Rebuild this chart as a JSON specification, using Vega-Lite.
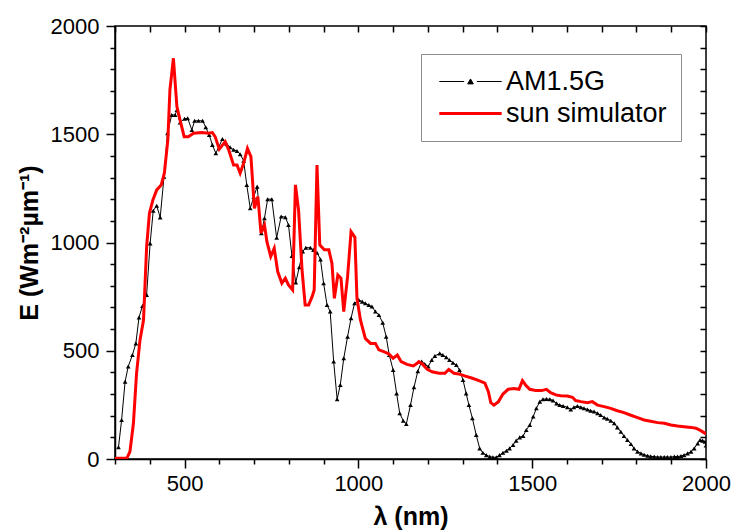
{
  "$schema": "https://vega.github.io/schema/vega-lite/v6.json",
  "autosize": "none",
  "width": 591,
  "height": 433,
  "padding": {"left": 115, "top": 26, "right": 28, "bottom": 73},
  "background": "white",
  "datasets": {
    "am15g": [
      {"wl":310,"E":54},{"wl":319,"E":180},{"wl":329,"E":357},{"wl":338,"E":427},{"wl":350,"E":480},{"wl":360,"E":534},{"wl":369,"E":654},{"wl":379,"E":707},{"wl":391,"E":758},{"wl":401,"E":996},{"wl":410,"E":1147},{"wl":420,"E":1170},{"wl":430,"E":1116},{"wl":441,"E":1304},{"wl":451,"E":1505},{"wl":463,"E":1589},{"wl":473,"E":1589},{"wl":478,"E":1612},{"wl":487,"E":1554},{"wl":500,"E":1572},{"wl":509,"E":1574},{"wl":521,"E":1520},{"wl":529,"E":1562},{"wl":540,"E":1562},{"wl":552,"E":1562},{"wl":561,"E":1532},{"wl":571,"E":1497},{"wl":580,"E":1451},{"wl":590,"E":1412},{"wl":609,"E":1478},{"wl":621,"E":1455},{"wl":631,"E":1440},{"wl":641,"E":1428},{"wl":651,"E":1423},{"wl":660,"E":1408},{"wl":670,"E":1378},{"wl":679,"E":1266},{"wl":689,"E":1158},{"wl":699,"E":1210},{"wl":709,"E":1258},{"wl":721,"E":1043},{"wl":730,"E":1112},{"wl":739,"E":1200},{"wl":751,"E":1200},{"wl":765,"E":1022},{"wl":778,"E":1120},{"wl":790,"E":1117},{"wl":799,"E":1081},{"wl":809,"E":938},{"wl":820,"E":815},{"wl":830,"E":886},{"wl":840,"E":958},{"wl":849,"E":976},{"wl":862,"E":976},{"wl":871,"E":966},{"wl":881,"E":953},{"wl":891,"E":922},{"wl":900,"E":812},{"wl":910,"E":711},{"wl":919,"E":681},{"wl":929,"E":450},{"wl":939,"E":276},{"wl":948,"E":342},{"wl":958,"E":465},{"wl":969,"E":565},{"wl":979,"E":650},{"wl":989,"E":719},{"wl":1001,"E":735},{"wl":1011,"E":727},{"wl":1020,"E":719},{"wl":1030,"E":711},{"wl":1039,"E":704},{"wl":1049,"E":681},{"wl":1059,"E":665},{"wl":1070,"E":630},{"wl":1080,"E":565},{"wl":1089,"E":480},{"wl":1100,"E":411},{"wl":1110,"E":303},{"wl":1119,"E":211},{"wl":1129,"E":177},{"wl":1138,"E":162},{"wl":1150,"E":249},{"wl":1160,"E":331},{"wl":1171,"E":405},{"wl":1182,"E":450},{"wl":1191,"E":439},{"wl":1201,"E":427},{"wl":1211,"E":457},{"wl":1220,"E":476},{"wl":1234,"E":488},{"wl":1243,"E":480},{"wl":1253,"E":470},{"wl":1262,"E":457},{"wl":1272,"E":445},{"wl":1282,"E":434},{"wl":1291,"E":411},{"wl":1301,"E":365},{"wl":1310,"E":303},{"wl":1318,"E":249},{"wl":1328,"E":188},{"wl":1339,"E":111},{"wl":1349,"E":49},{"wl":1358,"E":29},{"wl":1368,"E":18},{"wl":1378,"E":11},{"wl":1387,"E":8},{"wl":1397,"E":8},{"wl":1406,"E":18},{"wl":1416,"E":29},{"wl":1426,"E":38},{"wl":1435,"E":49},{"wl":1445,"E":65},{"wl":1454,"E":85},{"wl":1464,"E":100},{"wl":1474,"E":106},{"wl":1483,"E":134},{"wl":1493,"E":157},{"wl":1503,"E":196},{"wl":1512,"E":234},{"wl":1522,"E":265},{"wl":1531,"E":276},{"wl":1541,"E":277},{"wl":1551,"E":276},{"wl":1560,"E":270},{"wl":1570,"E":257},{"wl":1579,"E":249},{"wl":1589,"E":245},{"wl":1601,"E":239},{"wl":1611,"E":229},{"wl":1620,"E":239},{"wl":1630,"E":245},{"wl":1640,"E":239},{"wl":1649,"E":234},{"wl":1659,"E":229},{"wl":1668,"E":223},{"wl":1678,"E":219},{"wl":1688,"E":211},{"wl":1697,"E":203},{"wl":1707,"E":192},{"wl":1716,"E":186},{"wl":1726,"E":177},{"wl":1736,"E":165},{"wl":1745,"E":146},{"wl":1755,"E":126},{"wl":1764,"E":106},{"wl":1774,"E":88},{"wl":1784,"E":69},{"wl":1793,"E":49},{"wl":1803,"E":34},{"wl":1813,"E":26},{"wl":1822,"E":20},{"wl":1832,"E":15},{"wl":1841,"E":12},{"wl":1851,"E":11},{"wl":1861,"E":9},{"wl":1870,"E":9},{"wl":1880,"E":9},{"wl":1889,"E":9},{"wl":1899,"E":9},{"wl":1909,"E":11},{"wl":1918,"E":11},{"wl":1928,"E":14},{"wl":1937,"E":18},{"wl":1947,"E":26},{"wl":1957,"E":34},{"wl":1966,"E":49},{"wl":1976,"E":72},{"wl":1983,"E":88},{"wl":1990,"E":85},{"wl":1997,"E":80},{"wl":2000,"E":62}
    ],
    "sim": [
      {"wl":300,"E":3},{"wl":334,"E":3},{"wl":343,"E":34},{"wl":353,"E":165},{"wl":362,"E":396},{"wl":372,"E":550},{"wl":382,"E":642},{"wl":391,"E":981},{"wl":399,"E":1135},{"wl":409,"E":1197},{"wl":420,"E":1243},{"wl":433,"E":1266},{"wl":442,"E":1320},{"wl":452,"E":1474},{"wl":458,"E":1705},{"wl":468,"E":1851},{"wl":478,"E":1628},{"wl":487,"E":1566},{"wl":499,"E":1489},{"wl":511,"E":1489},{"wl":526,"E":1505},{"wl":550,"E":1508},{"wl":569,"E":1505},{"wl":580,"E":1508},{"wl":588,"E":1489},{"wl":600,"E":1431},{"wl":617,"E":1466},{"wl":627,"E":1428},{"wl":641,"E":1358},{"wl":651,"E":1358},{"wl":660,"E":1320},{"wl":670,"E":1366},{"wl":681,"E":1435},{"wl":691,"E":1397},{"wl":701,"E":1158},{"wl":711,"E":1212},{"wl":720,"E":1043},{"wl":730,"E":1081},{"wl":737,"E":1004},{"wl":748,"E":935},{"wl":758,"E":973},{"wl":768,"E":866},{"wl":780,"E":812},{"wl":790,"E":835},{"wl":799,"E":804},{"wl":811,"E":781},{"wl":819,"E":1266},{"wl":828,"E":1150},{"wl":838,"E":873},{"wl":847,"E":711},{"wl":857,"E":711},{"wl":867,"E":750},{"wl":873,"E":781},{"wl":881,"E":1358},{"wl":889,"E":989},{"wl":902,"E":966},{"wl":915,"E":966},{"wl":924,"E":904},{"wl":931,"E":742},{"wl":941,"E":850},{"wl":950,"E":835},{"wl":958,"E":681},{"wl":969,"E":842},{"wl":979,"E":1050},{"wl":990,"E":1024},{"wl":996,"E":742},{"wl":1006,"E":642},{"wl":1020,"E":557},{"wl":1035,"E":534},{"wl":1049,"E":534},{"wl":1059,"E":504},{"wl":1073,"E":496},{"wl":1088,"E":485},{"wl":1100,"E":465},{"wl":1112,"E":480},{"wl":1123,"E":450},{"wl":1140,"E":437},{"wl":1158,"E":430},{"wl":1169,"E":442},{"wl":1174,"E":450},{"wl":1184,"E":439},{"wl":1198,"E":414},{"wl":1212,"E":403},{"wl":1232,"E":396},{"wl":1249,"E":396},{"wl":1260,"E":414},{"wl":1275,"E":396},{"wl":1289,"E":393},{"wl":1308,"E":383},{"wl":1328,"E":373},{"wl":1347,"E":362},{"wl":1364,"E":350},{"wl":1374,"E":311},{"wl":1381,"E":260},{"wl":1390,"E":249},{"wl":1403,"E":265},{"wl":1416,"E":300},{"wl":1431,"E":322},{"wl":1448,"E":326},{"wl":1462,"E":322},{"wl":1472,"E":362},{"wl":1481,"E":342},{"wl":1493,"E":322},{"wl":1510,"E":316},{"wl":1527,"E":316},{"wl":1541,"E":322},{"wl":1553,"E":306},{"wl":1568,"E":296},{"wl":1582,"E":292},{"wl":1601,"E":291},{"wl":1616,"E":285},{"wl":1625,"E":270},{"wl":1640,"E":265},{"wl":1659,"E":260},{"wl":1673,"E":265},{"wl":1688,"E":249},{"wl":1707,"E":242},{"wl":1726,"E":234},{"wl":1745,"E":223},{"wl":1764,"E":214},{"wl":1784,"E":202},{"wl":1803,"E":191},{"wl":1822,"E":180},{"wl":1841,"E":174},{"wl":1861,"E":168},{"wl":1880,"E":165},{"wl":1899,"E":157},{"wl":1918,"E":152},{"wl":1937,"E":149},{"wl":1957,"E":146},{"wl":1971,"E":142},{"wl":1985,"E":131},{"wl":2000,"E":116}
    ]
  },
  "layer": [
    {
      "data": {"name": "am15g"},
      "mark": {"type": "line", "strokeWidth": 1, "clip": true},
      "encoding": {
        "x": {"field": "wl", "type": "quantitative", "scale": {"domain": [300, 2000], "nice": false, "zero": false},
          "axis": {"orient": "bottom", "title": "λ (nm)", "format": "d", "tickCount": 100, "values": [300,400,500,600,700,800,900,1000,1100,1200,1300,1400,1500,1600,1700,1800,1900,2000],
            "labelExpr": "datum.value % 500 === 0 ? datum.label : ''", "labelOverlap": false, "labelFlush": false,
            "tickSize": {"condition": {"test": "datum.value % 500 === 0", "value": 9}, "value": 5},
            "grid": true, "gridColor": "#000000", "gridWidth": 1.5, "gridOpacity": 1, "gridDash": [6, 440],
            "labelPadding": 5, "titlePadding": 10}},
        "y": {"field": "E", "type": "quantitative", "scale": {"domain": [0, 2000], "nice": false},
          "axis": {"orient": "left", "title": "E (Wm⁻²µm⁻¹)", "format": "d", "tickCount": 100, "values": [0,100,200,300,400,500,600,700,800,900,1000,1100,1200,1300,1400,1500,1600,1700,1800,1900,2000],
            "labelExpr": "datum.value % 500 === 0 ? datum.label : ''", "labelOverlap": false, "labelFlush": false,
            "tickSize": {"condition": {"test": "datum.value % 500 === 0", "value": 9}, "value": 5},
            "grid": true, "gridColor": "#000000", "gridWidth": 1.5, "gridOpacity": 1, "gridDash": [0, 585, 6],
            "labelPadding": 7, "titlePadding": 8}},
        "color": {"datum": "AM1.5G", "type": "nominal",
          "scale": {"domain": ["AM1.5G", "sun simulator"], "range": ["black", "#ff0000"]},
          "legend": {"title": null, "orient": "none", "legendX": 306, "legendY": 28, "direction": "vertical",
            "strokeColor": "#8c8c8c", "fillColor": "white", "padding": 14, "rowPadding": 4,
            "labelFontSize": 27, "labelFont": "Liberation Sans", "labelColor": "black", "labelLimit": 400,
            "symbolSize": 256, "symbolOffset": 22, "labelOffset": 22,
            "encode": {"symbols": {"update": {
              "shape": {"signal": "datum.value === 'AM1.5G' ? 'M-3.9,0H-0.8M0.8,0H3.9M-0.35,0.3L0,-0.32L0.35,0.3Z' : 'M-3.9,0H3.9'"},
              "fill": {"signal": "datum.value === 'AM1.5G' ? 'black' : 'transparent'"},
              "stroke": {"signal": "datum.value === 'AM1.5G' ? '#555555' : '#ff0000'"},
              "strokeWidth": {"signal": "datum.value === 'AM1.5G' ? 1 : 3"},
              "opacity": {"value": 1}
            }}}}}
      }
    },
    {
      "data": {"name": "am15g"},
      "mark": {"type": "point", "shape": "triangle-up", "filled": true, "size": 22, "opacity": 1, "clip": true},
      "encoding": {
        "x": {"field": "wl", "type": "quantitative"},
        "y": {"field": "E", "type": "quantitative"},
        "color": {"value": "black"}
      }
    },
    {
      "data": {"name": "sim"},
      "mark": {"type": "line", "strokeWidth": 3, "clip": true},
      "encoding": {
        "x": {"field": "wl", "type": "quantitative"},
        "y": {"field": "E", "type": "quantitative"},
        "color": {"datum": "sun simulator", "type": "nominal"}
      }
    }
  ],
  "config": {
    "view": {"stroke": "black", "strokeWidth": 1.5},
    "font": "Liberation Sans",
    "axis": {"domainColor": "black", "domainWidth": 1.5, "tickColor": "black", "tickWidth": 1.5,
      "labelColor": "black", "labelFontSize": 22, "labelFont": "Liberation Sans",
      "titleFont": "Liberation Sans", "titleFontSize": 25, "titleFontWeight": "bold", "titleColor": "black"}
  }
}
